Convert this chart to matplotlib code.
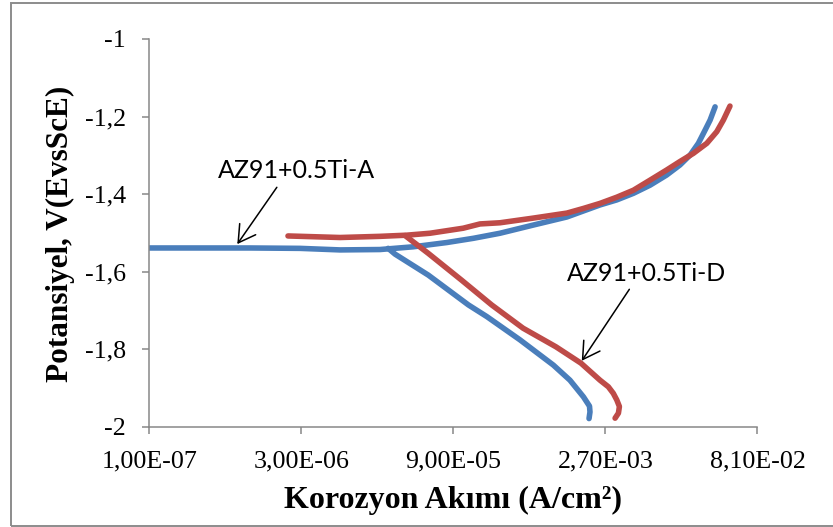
import matplotlib
matplotlib.use("Agg")
import matplotlib.pyplot as plt
from matplotlib.patches import Rectangle
from matplotlib.ticker import FixedLocator, FixedFormatter, NullLocator

# Polarization data: current density (A/cm2) and potential (V vs SCE)
# AZ91+0.5Ti-A
a_cath_i = [1.87e-3, 1.91e-3, 1.89e-3, 1.65e-3, 1.22e-3, 8.41e-4, 3.99e-4,
            1.90e-4, 1.26e-4, 5.13e-5, 2.44e-5, 2.09e-5]
a_cath_e = [-1.979, -1.962, -1.947, -1.923, -1.880, -1.841, -1.776,
            -1.716, -1.686, -1.609, -1.555, -1.540]
a_anod_i = [1.0e-7, 9.51e-7, 2.91e-6, 7.11e-6, 1.74e-5, 3.65e-5, 7.74e-5,
            1.41e-4, 2.55e-4, 5.35e-4, 1.14e-3, 2.39e-3, 3.48e-3, 5.05e-3,
            7.33e-3, 1.06e-2, 1.43e-2, 1.80e-2, 2.16e-2, 2.51e-2, 2.81e-2,
            3.14e-2]
a_anod_e = [-1.539, -1.539, -1.540, -1.544, -1.543, -1.536, -1.525,
            -1.514, -1.501, -1.480, -1.459, -1.428, -1.415, -1.398,
            -1.377, -1.351, -1.325, -1.299, -1.269, -1.235, -1.209,
            -1.175]

# AZ91+0.5Ti-D
d_cath_i = [3.35e-3, 3.61e-3, 3.69e-3, 3.48e-3, 3.22e-3, 2.88e-3, 2.39e-3,
            1.56e-3, 8.93e-4, 4.28e-4, 2.12e-4, 1.08e-4, 5.13e-5, 3.05e-5]
d_cath_e = [-1.978, -1.965, -1.948, -1.931, -1.914, -1.897, -1.880,
            -1.836, -1.794, -1.746, -1.686, -1.622, -1.553, -1.507]
d_anod_i = [2.22e-6, 7.11e-6, 1.74e-5, 3.16e-5, 5.33e-5, 1.12e-4, 1.63e-4,
            2.55e-4, 5.35e-4, 1.14e-3, 1.65e-3, 2.39e-3, 3.48e-3, 5.05e-3,
            7.33e-3, 1.06e-2, 1.43e-2, 1.93e-2, 2.61e-2, 3.26e-2, 3.78e-2,
            4.38e-2]
d_anod_e = [-1.508, -1.512, -1.509, -1.506, -1.501, -1.488, -1.477,
            -1.474, -1.462, -1.449, -1.437, -1.424, -1.408, -1.390,
            -1.364, -1.338, -1.316, -1.295, -1.269, -1.239, -1.209,
            -1.173]

x_ticks = [1e-7, 3e-6, 9e-5, 2.7e-3, 8.1e-2]
x_tick_labels = ["1,00E-07", "3,00E-06", "9,00E-05", "2,70E-03", "8,10E-02"]
y_ticks = [-2.0, -1.8, -1.6, -1.4, -1.2, -1.0]
y_tick_labels = ["-2", "-1,8", "-1,6", "-1,4", "-1,2", "-1"]

BLUE = "#4A7EBB"
RED = "#BE4B48"
AXIS_GRAY = "#878787"

fig = plt.figure(figsize=(8.33, 5.27), dpi=100)
fig.patch.set_facecolor("white")

# chart-area frame
fig.add_artist(Rectangle((0.0138, 0.0028), 1.2, 0.9915, transform=fig.transFigure,
                         fill=False, edgecolor="#8C8C8C", linewidth=1.4))

ax = fig.add_axes([0.1794, 0.1903, 0.7299, 0.7357])
ax.set_xscale("log")
ax.set_xlim(1e-7, 8.1e-2)
ax.set_ylim(-2.0, -1.0)

lw = 4.0
for xs, ys in [(a_cath_i, a_cath_e), (a_anod_i, a_anod_e)]:
    ax.plot(xs, ys, color=BLUE, lw=lw, solid_capstyle="round",
            solid_joinstyle="round")
for xs, ys in [(d_cath_i, d_cath_e), (d_anod_i, d_anod_e)]:
    ax.plot(xs, ys, color=RED, lw=lw, solid_capstyle="round",
            solid_joinstyle="round")

for side in ("top", "right"):
    ax.spines[side].set_visible(False)
for side in ("left", "bottom"):
    ax.spines[side].set_color(AXIS_GRAY)
    ax.spines[side].set_linewidth(1.1)

ax.xaxis.set_major_locator(FixedLocator(x_ticks))
ax.xaxis.set_major_formatter(FixedFormatter(x_tick_labels))
ax.xaxis.set_minor_locator(NullLocator())
ax.yaxis.set_major_locator(FixedLocator(y_ticks))
ax.yaxis.set_major_formatter(FixedFormatter(y_tick_labels))

ax.tick_params(axis="both", which="major", direction="out", length=5,
               width=1.1, color=AXIS_GRAY, labelsize=18.7, pad=12)
for lab in ax.get_xticklabels() + ax.get_yticklabels():
    lab.set_fontfamily("Liberation Serif")

ax.set_xlabel("Korozyon Akımı (A/cm²)", fontfamily="Liberation Serif",
              fontweight="bold", fontsize=23)
ax.xaxis.set_label_coords(0.5, -0.153)
ax.set_ylabel("Potansiyel, V(EvsScE)", fontfamily="Liberation Serif",
              fontweight="bold", fontsize=22.5)
ax.yaxis.set_label_coords(-0.1224, 0.497)

arrow = dict(arrowstyle="->,head_length=0.6,head_width=0.35", color="black",
             lw=1.1, mutation_scale=20, shrinkA=0, shrinkB=0)
ax.annotate("", xy=(7.14e-7, -1.529), xytext=(1.73e-6, -1.3825),
            arrowprops=arrow)
ax.annotate("", xy=(1.59e-3, -1.830), xytext=(4.61e-3, -1.6456),
            arrowprops=arrow)

label_font = dict(family="Lato", size=18)
ax.text(2.66e-6, -1.3345, "AZ91+0.5Ti-A", ha="center", va="center_baseline",
        **label_font)
ax.text(6.70e-3, -1.599, "AZ91+0.5Ti-D", ha="center", va="center_baseline",
        **label_font)

fig.savefig("out.png", dpi=100, facecolor="white")
